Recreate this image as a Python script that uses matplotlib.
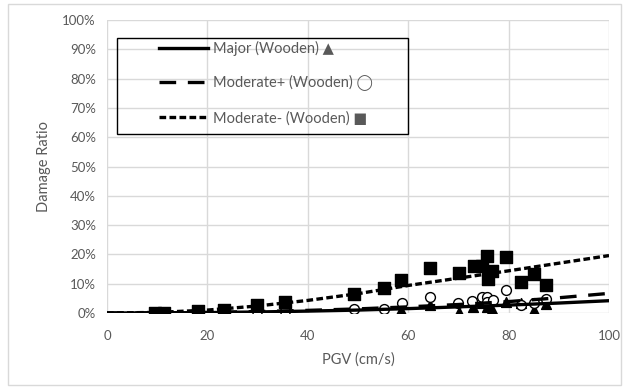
import matplotlib
matplotlib.use("Agg")
import matplotlib.pyplot as plt
from matplotlib.patches import Rectangle
from matplotlib.ticker import PercentFormatter

plt.rcParams["font.family"] = ["Lato", "DejaVu Sans"]

major_pgv = [9.6, 11.3, 18.1, 23.4, 29.9, 35.5, 49.2, 55.1, 58.5, 64.4, 70.1,
             72.9, 74.8, 75.7, 76.7, 79.4, 82.4, 85.0, 87.4]
major_ratio = [0.0, 0.0, 0.0, 0.0, 0.0, 0.0, 0.0, 0.0, 0.9, 2.7, 0.3,
               2.1, 3.3, 2.1, 1.5, 3.9, 3.3, 0.9, 3.0]

modp_pgv = [29.9, 35.5, 49.2, 55.1, 58.7, 64.4, 69.9,
            72.8, 74.8, 75.6, 75.7, 76.9, 79.4, 82.4, 85.0, 87.4]
modp_ratio = [0.7, 0.6, 1.5, 1.5, 3.3, 5.4, 3.3,
              4.2, 5.6, 5.4, 3.9, 4.4, 7.7, 2.9, 3.5, 4.8]

modm_pgv = [9.6, 11.3, 18.1, 23.4, 29.9, 35.5, 49.2, 55.1, 58.5, 64.4, 70.1,
            73.1, 74.8, 75.6, 75.9, 76.7, 79.4, 82.4, 85.0, 87.4]
modm_ratio = [0.0, 0.0, 0.6, 0.9, 2.7, 3.6, 6.4, 8.5, 11.2, 15.2, 13.6,
              15.9, 16.1, 19.4, 11.5, 14.4, 19.1, 10.6, 13.2, 9.5]

curve_pgv = [0, 10, 20, 30, 40, 50, 60, 70, 80, 90, 100]
major_fit = [0.0, 0.05, 0.15, 0.35, 0.65, 1.0, 1.5, 2.1, 2.7, 3.4, 4.2]
modp_fit = [0.0, 0.05, 0.2, 0.5, 0.9, 1.4, 2.1, 2.9, 3.9, 5.2, 6.7]
modm_fit = [0.0, 0.2, 1.0, 2.4, 4.3, 6.6, 9.4, 11.9, 14.4, 17.0, 19.6]

labels = ["Major (Wooden) \u25B2", "Moderate+ (Wooden) \u25EF",
          "Moderate- (Wooden) \u25A0"]

grey = "#595959"

fig = plt.figure(figsize=(6.25, 3.87), dpi=100)
fig.patches.append(Rectangle((0.013, 0.005), 0.98, 0.985, transform=fig.transFigure,
                             fill=False, edgecolor="#d9d9d9", lw=1))
ax = fig.add_axes([0.1712, 0.1912, 0.8032, 0.757])

ax.scatter(major_pgv, major_ratio, marker="^", s=50, color="black", zorder=3)
ax.scatter(modp_pgv, modp_ratio, marker="o", s=50, facecolor="white",
           edgecolor="black", lw=1, zorder=3)
ax.scatter(modm_pgv, modm_ratio, marker="s", s=65, color="black", zorder=3)

l1, = ax.plot(curve_pgv, major_fit, color="black", lw=2.4, zorder=5)
l2, = ax.plot(curve_pgv, modp_fit, color="black", lw=2.4, zorder=5,
              dashes=(5, 3.5))
l3, = ax.plot(curve_pgv, modm_fit, color="black", lw=2.4, zorder=5,
              dashes=(2, 1))

ax.set_xlim(0, 100)
ax.set_ylim(0, 100)
ax.set_xticks(range(0, 101, 20))
ax.set_yticks(range(0, 101, 10))
ax.yaxis.set_major_formatter(PercentFormatter(decimals=0))
ax.grid(True, color="#d9d9d9", lw=1)
ax.set_axisbelow(True)
for s in ax.spines.values():
    s.set_visible(False)
ax.tick_params(length=0, labelsize=9.5, labelcolor=grey)
ax.tick_params(axis="x", pad=12)
ax.tick_params(axis="y", pad=8)
ax.set_xlabel("PGV (cm/s)", fontsize=10.5, color=grey, labelpad=8)
ax.set_ylabel("Damage Ratio", fontsize=10.5, color=grey, labelpad=8)

ax.add_patch(Rectangle((0.02, 0.611), 0.58, 0.328, transform=ax.transAxes,
                       fill=False, edgecolor="black", lw=1, zorder=6))
leg = ax.legend([l1, l2, l3], labels, frameon=False, loc="upper left",
                bbox_to_anchor=(0.103, 0.93), borderpad=0, borderaxespad=0,
                handlelength=3.4, handletextpad=0.3, labelspacing=1.35,
                fontsize=10.5)
for t in leg.get_texts():
    t.set_color(grey)
leg.set_zorder(7)

fig.savefig("out.png", dpi=100)
